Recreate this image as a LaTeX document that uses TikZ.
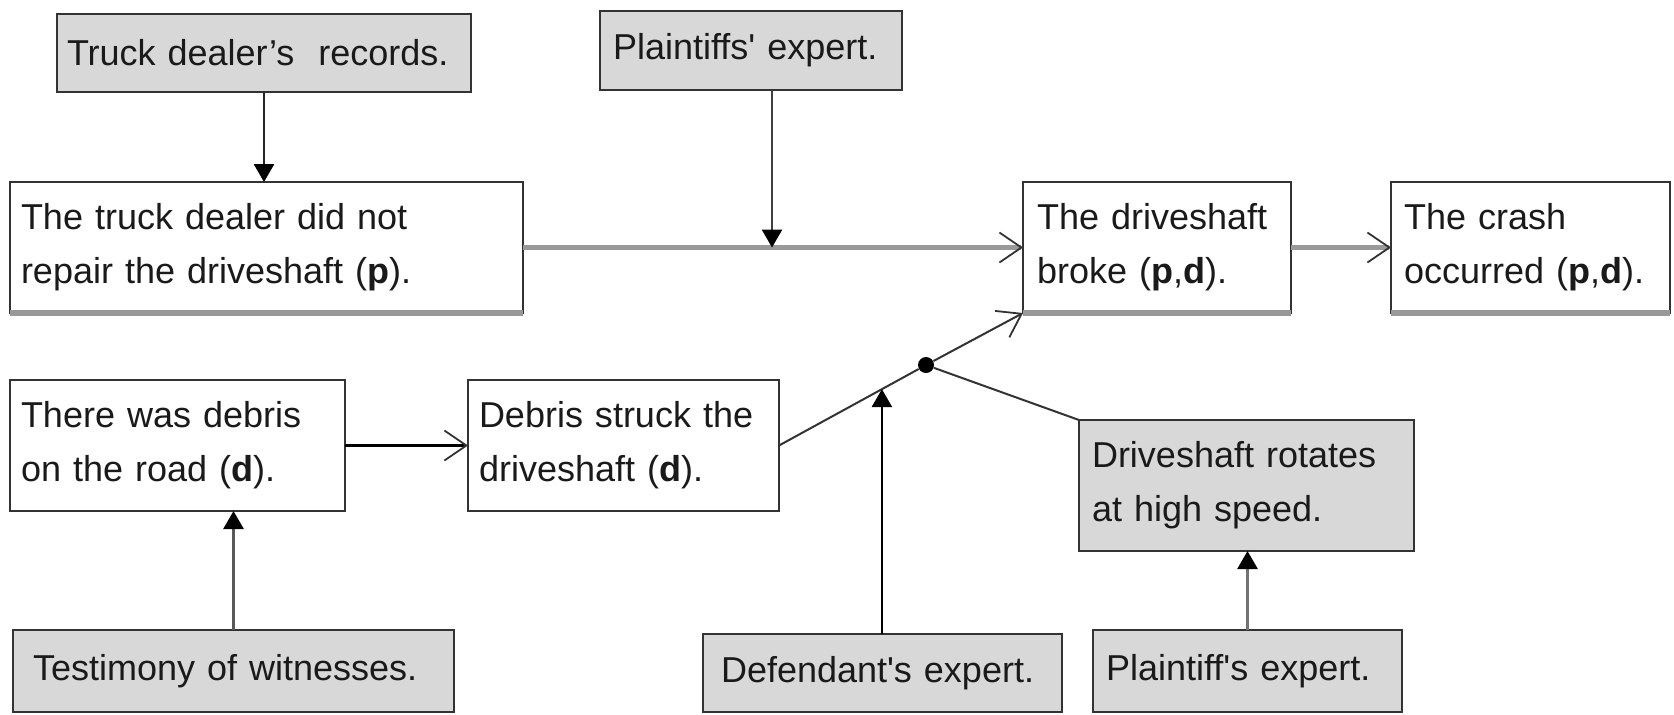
\documentclass[tikz,border=0pt]{standalone}
\usepackage{fontspec}
\newfontfamily\arial{Liberation Sans}
\usetikzlibrary{arrows.meta,calc}
\definecolor{boxfill}{RGB}{216,216,216}
\definecolor{edgedark}{RGB}{51,51,51}
\definecolor{linkgray}{RGB}{153,153,153}
\definecolor{inkc}{RGB}{26,26,26}

\begin{document}
\begin{tikzpicture}[x=0.5pt,y=-0.5pt,
  every node/.style={font=\arial\fontsize{18}{27}\selectfont, text=inkc},
  fact/.style={draw=edgedark, line width=1.4pt, fill=white, inner ysep=0pt,
    outer sep=0pt, align=left},
  evidence/.style={fact, fill=boxfill},
  support/.style={line width=1.4pt, -{Triangle[width=10pt,length=9pt,color=black]}},
  cause/.style={-{Straight Barb[length=11pt,width=15pt,line width=0.9pt 0,color=edgedark]}},
  thinlink/.style={draw=edgedark, line width=1pt}
]
\useasboundingbox (0,0) rectangle (1674,714);

% evidence boxes (grey)
\node[evidence, minimum width=207pt, minimum height=39pt, inner xsep=5pt, text width=197pt]
  (rec) at (264,53) {Truck dealer’s\ \ records.};
\node[evidence, minimum width=151pt, minimum height=39.5pt, inner xsep=6.5pt, text width=138pt]
  (pexp) at (751,50.5) {Plaintiffs' expert.};
\node[evidence, minimum width=220.5pt, minimum height=41pt, inner xsep=10pt, text width=200.5pt]
  (test) at (233.5,671) {Testimony of witnesses.};
\node[evidence, minimum width=179.5pt, minimum height=39pt, inner xsep=9pt, text width=161.5pt]
  (dexp) at (882.5,673) {Defendant's expert.};
\node[evidence, minimum width=154.5pt, minimum height=41pt, inner xsep=6.5pt, text width=141.5pt]
  (pexp2) at (1247.5,671) {Plaintiff's expert.};
\node[evidence, minimum width=167.5pt, minimum height=65.5pt, inner xsep=6.5pt, text width=154.5pt]
  (rot) at (1246.5,485.5) {Driveshaft rotates\\at high speed.};

% claim boxes (white)
\node[fact, minimum width=256.5pt, minimum height=65.5pt, inner xsep=5.5pt, text width=245.5pt]
  (dealer) at (266.5,247.5) {The truck dealer did not\\repair the driveshaft (\textbf{p}).};
\node[fact, minimum width=134pt, minimum height=65.5pt, inner xsep=7pt, text width=120pt]
  (broke) at (1157,247.5) {The driveshaft\\broke (\textbf{p},\textbf{d}).};
\node[fact, minimum width=139.5pt, minimum height=65.5pt, inner xsep=6.5pt, text width=126.5pt]
  (crash) at (1530.5,247.5) {The crash\\occurred (\textbf{p},\textbf{d}).};
\node[fact, minimum width=167.5pt, minimum height=65.5pt, inner xsep=5.5pt, text width=156.5pt]
  (road) at (177.5,445.5) {There was debris\\on the road (\textbf{d}).};
\node[fact, minimum width=155.5pt, minimum height=65.5pt, inner xsep=5.5pt, text width=144.5pt]
  (struck) at (623.5,445.5) {Debris struck the\\driveshaft (\textbf{d}).};

% shaded lower edges of the top row
\foreach \b in {dealer,broke,crash}
  \draw[linkgray, line width=2.6pt] (\b.south west) -- (\b.south east);

% junction dot of the linked causes
\node[circle, fill=black, inner sep=0pt, minimum size=8pt] (dot) at (926,365) {};

% causal links
\draw[cause, linkgray, line width=2.6pt] (dealer.east) -- (broke.west);
\draw[cause, linkgray, line width=2.6pt] (broke.east) -- (crash.west);
\draw[cause, black, line width=1.5pt] (road.east) -- (struck.east -| struck.west);
\draw[thinlink] (struck.east) -- (dot);
\draw[thinlink] (rot.north west) -- (dot);
\draw[thinlink, cause] (dot) -- (broke.south west);

% points where evidence meets a link
\coordinate (j1) at ($(dealer.east)!0.498!(broke.west)$);
\coordinate (j2) at ($(struck.east)!0.70!(dot)$);

% evidence arrows
\draw[support, draw=black!85] (rec.south) -- (rec.south |- dealer.north);
\draw[support, draw=black!75] (j1 |- pexp.south) -- (j1);
\draw[support, draw=black!65] (test.north) -- (test.north |- road.south);
\draw[support, draw=black] (j2 |- dexp.north) -- (j2);
\draw[support, draw=black!55] (pexp2.north) -- (pexp2.north |- rot.south);
\end{tikzpicture}
\end{document}
